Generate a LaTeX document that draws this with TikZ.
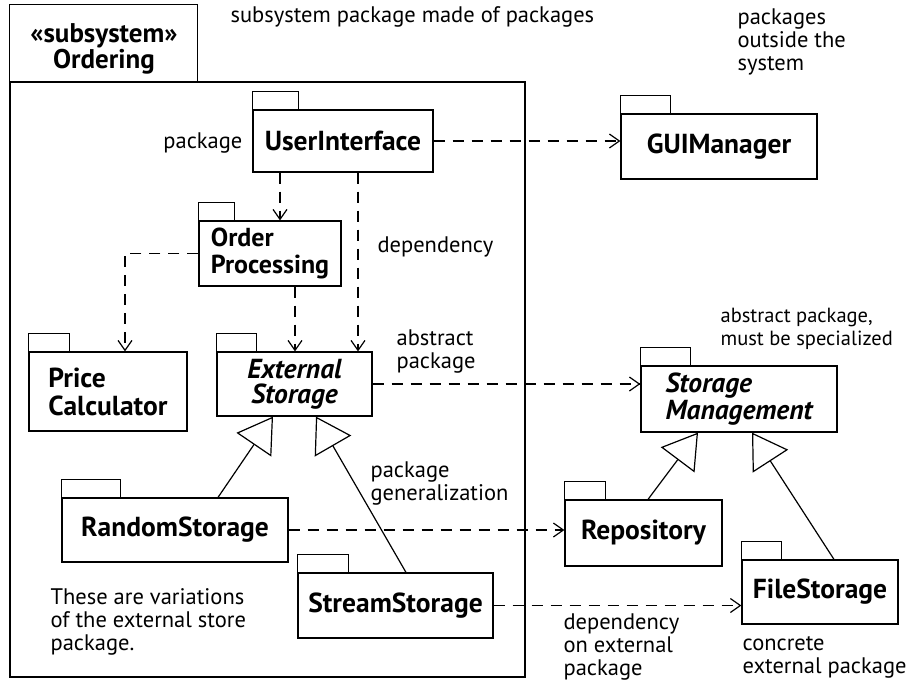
\documentclass[tikz,border=0pt]{standalone}
\usepackage{fontspec}
\setmainfont{PT Sans}
\usetikzlibrary{arrows.meta}
\begin{document}
\begin{tikzpicture}[x=1pt, y=-1pt, line width=1.2pt,
  pkg/.style={draw, inner sep=0pt, align=left, font=\fontsize{27.5}{24}\selectfont\bfseries},
  note/.style={align=left, inner sep=0pt, font=\fontsize{22.5}{23}\selectfont},
  dep/.style={dash pattern=on 11pt off 8pt, -{Straight Barb[length=10pt,width=14pt]}},
  gen/.style={-{Triangle[open,length=34pt,width=42pt]}}]
	\useasboundingbox (0,0) rectangle (918,681);
	\node[draw, minimum width=515pt, minimum height=595pt] (ordering) at (267.5,379.5) {};
	\draw (ordering.north west) rectangle ++(188,-77);
	\node[align=center, inner sep=0pt, font=\fontsize{27}{26}\selectfont\bfseries] (subtab) at (104,49) {«subsystem»\\Ordering};
	\node[pkg, minimum width=180pt, minimum height=62pt] (ui) at (343,141) {UserInterface};
	\node[pkg, minimum width=196pt, minimum height=65pt] (gui) at (719,146.5) {GUIManager};
	\node[pkg, minimum width=142pt, minimum height=65pt, font=\fontsize{26}{27}\selectfont\bfseries] (op) at (270,253.5) {Order\\Processing};
	\node[pkg, minimum width=158pt, minimum height=79pt, font=\fontsize{27.5}{28}\selectfont\bfseries] (pc) at (108,391.5) {Price\\Calculator};
	\node[pkg, minimum width=155pt, minimum height=64pt, align=center, font=\fontsize{27.5}{25}\selectfont\bfseries\itshape] (es) at (294.5,384) {External\\Storage};
	\node[pkg, minimum width=196pt, minimum height=66pt, font=\fontsize{27.5}{27}\selectfont\bfseries\itshape] (sm) at (739,399) {Storage\\Management};
	\node[pkg, minimum width=226pt, minimum height=64pt] (rs) at (175,530) {RandomStorage};
	\node[pkg, minimum width=195pt, minimum height=65pt] (ss) at (395.5,605.5) {StreamStorage};
	\node[pkg, minimum width=157pt, minimum height=66pt] (rep) at (643.5,533) {Repository};
	\node[pkg, minimum width=156pt, minimum height=64pt] (fs) at (820,592) {FileStorage};
	\foreach \n/\w in {ui/46, gui/50, op/36, pc/41, es/40, sm/50, rs/59, ss/51, rep/41, fs/40}
		\draw (\n.north west) rectangle ++(\w,-18);
	\draw[dep] (ui.east) -- (ui.east -| gui.west);
	\draw[dep] ([xshift=-63pt]ui.south) -- ([xshift=-63pt]ui.south |- op.north);
	\draw[dep] ([xshift=15pt]ui.south) -- ([xshift=15pt]ui.south |- es.north);
	\draw[dep] ([xshift=25pt]op.south) -- ([xshift=25pt]op.south |- es.north);
	\draw[dep] (op.west) -| ([xshift=17pt]pc.north);
	\draw[dep] (es.east) -- (es.east -| sm.west);
	\draw[dep] (rs.east) -- (rs.east -| rep.west);
	\draw[dep] (ss.east) -- (ss.east -| fs.west);
	\draw[gen] ([xshift=43pt]rs.north) -- ([xshift=-21.5pt]es.south);
	\draw[gen] ([xshift=10.5pt]ss.north) -- ([xshift=21.5pt]es.south);
	\draw[gen] ([xshift=4.5pt]rep.north) -- ([xshift=-41pt]sm.south);
	\draw[gen] ([xshift=14pt]fs.north) -- ([xshift=13pt]sm.south);
	\node[note, anchor=west] (title) at (230,17) {subsystem package made of packages};
	\node[note, anchor=west] (outside) at (737,42) {packages\\outside the\\system};
	\node[note, anchor=east] (pkglabel) at (243,143) {package};
	\node[note, anchor=west] (deplabel) at (377,247) {dependency};
	\node[note, anchor=west] (abstr) at (396,352) {abstract\\package};
	\node[note, anchor=west, font=\fontsize{20.5}{23}\selectfont] (abstrsm) at (720,329) {abstract package,\\must be specialized};
	\node[note, anchor=west] (genlabel) at (370,483) {package\\generalization};
	\node[note, anchor=west] (variations) at (50,622) {These are variations\\of the external store\\package.};
	\node[note, anchor=west] (extdep) at (563,647) {dependency\\on external\\package};
	\node[note, anchor=west] (concrete) at (742,657) {concrete\\external package};
\end{tikzpicture}
\end{document}
